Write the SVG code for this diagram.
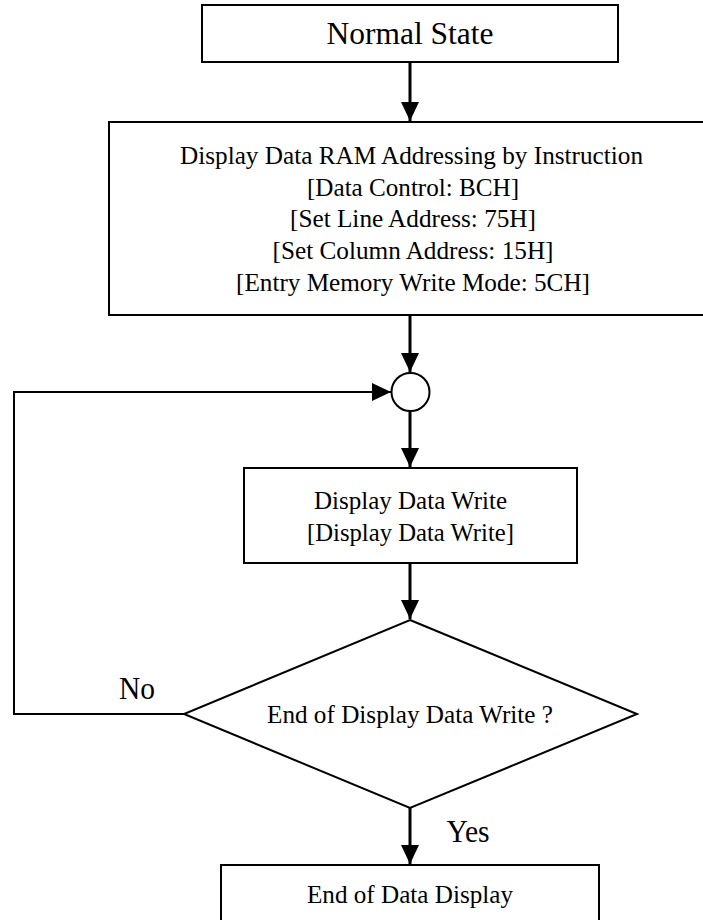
<svg xmlns="http://www.w3.org/2000/svg" width="703" height="920" viewBox="0 0 703 920" font-family="'Liberation Serif', 'Times New Roman', 'DejaVu Serif', serif">
<style>
.box{fill:#fff;stroke:#000;stroke-width:2}
text{font-family:'Liberation Serif','Times New Roman','DejaVu Serif',serif;fill:#000;text-anchor:middle}
.t{font-size:26px}
.big{font-size:31px}
.lbl{font-size:32px}
.conn{fill:none;stroke:#000;stroke-width:3}
.loop{fill:none;stroke:#000;stroke-width:2}
</style>
<defs>
<marker id="ah" markerUnits="userSpaceOnUse" markerWidth="20" markerHeight="18" refX="19" refY="9" orient="auto">
<path d="M0,0 L19,9 L0,18 z" fill="#000"/>
</marker>
</defs>
<rect width="703" height="920" fill="#fff"/>
<g id="connectors">
<line class="conn" x1="410" y1="62" x2="410" y2="121" marker-end="url(#ah)"/>
<line class="conn" x1="410" y1="315" x2="410" y2="372" marker-end="url(#ah)"/>
<line class="conn" x1="410" y1="411" x2="410" y2="467" marker-end="url(#ah)"/>
<line class="conn" x1="410" y1="563" x2="410" y2="619" marker-end="url(#ah)"/>
<line class="conn" x1="410" y1="808" x2="410" y2="864" marker-end="url(#ah)"/>
<path class="loop" d="M184,714 H14 V392 H391" marker-end="url(#ah)"/>
<text class="lbl" x="137" y="699" textLength="36" lengthAdjust="spacingAndGlyphs">No</text>
<text class="lbl" x="468" y="842" textLength="43" lengthAdjust="spacingAndGlyphs">Yes</text>
</g>
<g id="normal-state">
<rect class="box" x="202" y="5" width="416" height="57"/>
<text class="big" x="410" y="44" textLength="167" lengthAdjust="spacingAndGlyphs">Normal State</text>
</g>
<g id="addressing">
<rect class="box" x="109" y="122" width="610" height="193"/>
<text class="t" x="411.5" y="164" textLength="463" lengthAdjust="spacingAndGlyphs">Display Data RAM Addressing by Instruction</text>
<text class="t" x="413" y="196" textLength="212" lengthAdjust="spacingAndGlyphs">[Data Control: BCH]</text>
<text class="t" x="413" y="227" textLength="246" lengthAdjust="spacingAndGlyphs">[Set Line Address: 75H]</text>
<text class="t" x="413" y="259" textLength="281" lengthAdjust="spacingAndGlyphs">[Set Column Address: 15H]</text>
<text class="t" x="413" y="291" textLength="354" lengthAdjust="spacingAndGlyphs">[Entry Memory Write Mode: 5CH]</text>
</g>
<g id="junction">
<circle class="box" cx="410.5" cy="392" r="19"/>
</g>
<g id="display-write">
<rect class="box" x="244" y="468" width="333" height="95"/>
<text class="t" x="410.5" y="509" textLength="193" lengthAdjust="spacingAndGlyphs">Display Data Write</text>
<text class="t" x="410.5" y="541" textLength="207" lengthAdjust="spacingAndGlyphs">[Display Data Write]</text>
</g>
<g id="decision">
<polygon class="box" points="410,620 637,714 410,808 184,714"/>
<text class="t" x="410" y="723" textLength="286" lengthAdjust="spacingAndGlyphs">End of Display Data Write ?</text>
</g>
<g id="end">
<rect class="box" x="221" y="865" width="378" height="70"/>
<text class="t" x="410" y="903" textLength="206" lengthAdjust="spacingAndGlyphs">End of Data Display</text>
</g>
</svg>
